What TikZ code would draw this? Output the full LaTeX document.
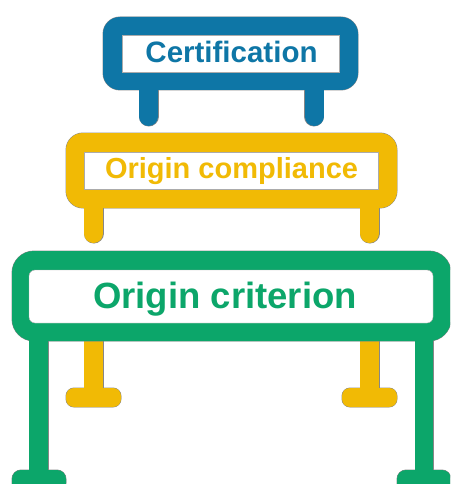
\documentclass[tikz,border=0pt]{standalone}
\usepackage{fontspec}
\setmainfont{Liberation Sans}
\definecolor{certblue}{RGB}{14,118,166}
\definecolor{compyellow}{RGB}{241,186,5}
\definecolor{critgreen}{RGB}{12,166,106}
\definecolor{edgegray}{RGB}{135,135,135}
\tikzset{
  % first pass: a slightly wider grey silhouette gives the faint outer edge
  edgefill/.style={fill=edgegray, draw=edgegray, line width=0.9pt},
  edgeleg/.style={draw=edgegray, line width=20pt, line cap=round},
  yfill/.style={fill=compyellow},
  gfill/.style={fill=critgreen},
  bfill/.style={fill=certblue},
  barleg/.style={draw=#1, line width=19pt, line cap=round},
  window/.style={fill=white, draw=edgegray!70, line width=0.4pt},
  label/.style={anchor=base, font=\bfseries\fontsize{#1}{#1}\selectfont}
}
\begin{document}
\begin{tikzpicture}[x=1pt, y=-1pt]
\useasboundingbox (0,0) rectangle (450,484);
\clip (0,0) rectangle (450,484);

% ---- yellow stand, lower legs and feet (behind the green bar)
\foreach \s in {edgefill, yfill} {
  \path[\s] (84,330) rectangle (103,398);
  \path[\s] (360,330) rectangle (379,398);
  \path[\s, rounded corners=8pt] (66,388) rectangle (121,407);
  \path[\s, rounded corners=8pt] (342,388) rectangle (397,407);
}

% ---- green bar: Origin criterion
\foreach \s in {edgefill, gfill} {
  \path[\s] (29,330) rectangle (48,478);
  \path[\s] (415,330) rectangle (433,478);
  \path[\s, rounded corners=9pt] (12,470) rectangle (66,492);
  \path[\s, rounded corners=9pt] (397,470) rectangle (451,492);
  \path[\s, rounded corners=22pt] (12,251) rectangle (451,341);
}
\path[window, rounded corners=6pt] (29,270) rectangle (433,323);
\node[label=36.5, text=critgreen] (crit) at (225,308) {Origin criterion};

% ---- yellow bar: Origin compliance
\draw[edgeleg] (93.5,200) -- (93.5,233.5);
\draw[edgeleg] (369.5,200) -- (369.5,233.5);
\foreach \s in {edgefill, yfill}
  \path[\s, rounded corners=17pt] (66,133) rectangle (397,208);
\draw[barleg=compyellow] (93.5,200) -- (93.5,233.5);
\draw[barleg=compyellow] (369.5,200) -- (369.5,233.5);
\path[window] (84,152) rectangle (378,189);
\node[label=29, text=compyellow] (comp) at (231.5,178) {Origin compliance};

% ---- blue bar: Certification
\draw[edgeleg] (148.5,82) -- (148.5,116.5);
\draw[edgeleg] (314,82) -- (314,116.5);
\foreach \s in {edgefill, bfill}
  \path[\s, rounded corners=17pt] (103,17) rectangle (358,90);
\draw[barleg=certblue] (148.5,82) -- (148.5,116.5);
\draw[barleg=certblue] (314,82) -- (314,116.5);
\path[window] (122,35) rectangle (339,72);
\node[label=29.5, text=certblue] (cert) at (231.5,63) {Certification};
\end{tikzpicture}
\end{document}
